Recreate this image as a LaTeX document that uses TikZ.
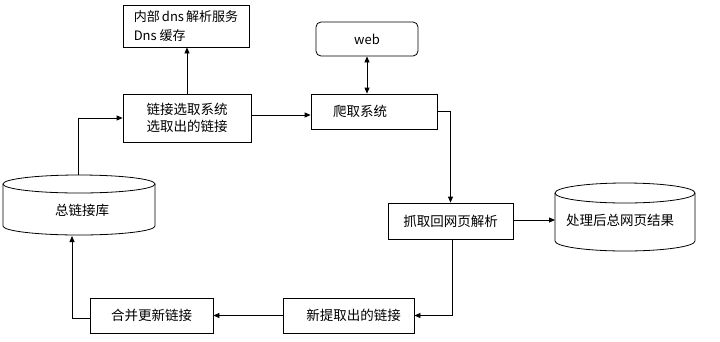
\documentclass[tikz,border=0pt]{standalone}
\usepackage{fontspec}
\setmainfont{Noto Sans CJK SC}
\usetikzlibrary{arrows.meta,calc}
\tikzset{
  box/.style={draw, line width=0.8pt, rectangle, inner sep=0pt},
  rbox/.style={draw, line width=0.8pt, rectangle, rounded corners=5pt, inner sep=0pt},
  lbl/.style={inner sep=0pt, font=\fontsize{13.5}{19}\selectfont},
  conn/.style={line width=0.8pt},
  arr/.style={conn, -{Triangle[length=6pt,width=5pt]}},
  darr/.style={conn, {Triangle[length=6pt,width=5pt]}-{Triangle[length=6pt,width=5pt]}},
}
\begin{document}
\begin{tikzpicture}[x=1pt,y=-1pt]
\useasboundingbox (0,0) rectangle (720,341);
\fill[white] (0,0) rectangle (720,341);
% boxes
\node[box, minimum width=126pt, minimum height=42pt, align=left, font=\fontsize{13}{19}\selectfont] (dns) at (186,26) {内部\,dns\,解析服务\\Dns 缓存};
\node[box, minimum width=128pt, minimum height=48pt, align=center, font=\fontsize{13.5}{17}\selectfont] (sel) at (187,118) {链接选取系统\\选取出的链接};
\node[rbox, minimum width=102pt, minimum height=34pt, font=\fontsize{13}{15}\selectfont] (web) at (367,39) {web};
\node[box, minimum width=126pt, minimum height=35pt, font=\fontsize{13.5}{15}\selectfont] (crawl) at (374,111.5) {\hspace*{-28pt}爬取系统};
\node[box, minimum width=125pt, minimum height=36pt, font=\fontsize{13.5}{15}\selectfont] (parse) at (450.5,221) {抓取回网页解析};
\node[box, minimum width=131pt, minimum height=35pt, font=\fontsize{13.5}{15}\selectfont] (newl) at (348.5,315.5) {\hspace*{10pt}新提取出的链接};
\node[box, minimum width=123pt, minimum height=35pt, font=\fontsize{13.5}{15}\selectfont] (merge) at (151.5,315.5) {合并更新链接};
% cylinder 1
\draw[conn] (3,184) -- (3,226) arc[start angle=180, end angle=360, x radius=76pt, y radius=9pt] -- (155,184);
\draw[conn] (79,184) ellipse [x radius=76pt, y radius=9pt];
\node[lbl] (cyl1) at (82,210) {总链接库};
\coordinate (cyl1top) at (78,175);
\coordinate (cyl1bot) at (72,236);
% cylinder 2
\draw[conn] (555,193) -- (555,241) arc[start angle=180, end angle=360, x radius=70pt, y radius=10pt] -- (695,193);
\draw[conn] (625,193) ellipse [x radius=70pt, y radius=10pt];
\node[lbl] (cyl2) at (620,220) {处理后总网页结果};
\coordinate (cyl2w) at (555,220);
% connectors
\draw[arr] (sel.north) -- (sel.north |- dns.south);
\draw[darr] (web.south) -- (web.south |- crawl.north);
\draw[arr] ($(sel.east)+(0,-3)$) -- ($(sel.east -| crawl.west)+(0,-3)$);
\draw[arr] (crawl.east) -| (parse.north);
\draw[arr] (parse.east |- cyl2w) -- (cyl2w);
\draw[arr] ($(parse.south)+(2,0)$) |- (newl.east);
\draw[arr] (newl.west) -- (merge.east);
\draw[arr] ($(merge.west)+(0,3)$) -| (cyl1bot);
\draw[arr] (cyl1top) |- (sel.west);
\end{tikzpicture}
\end{document}
